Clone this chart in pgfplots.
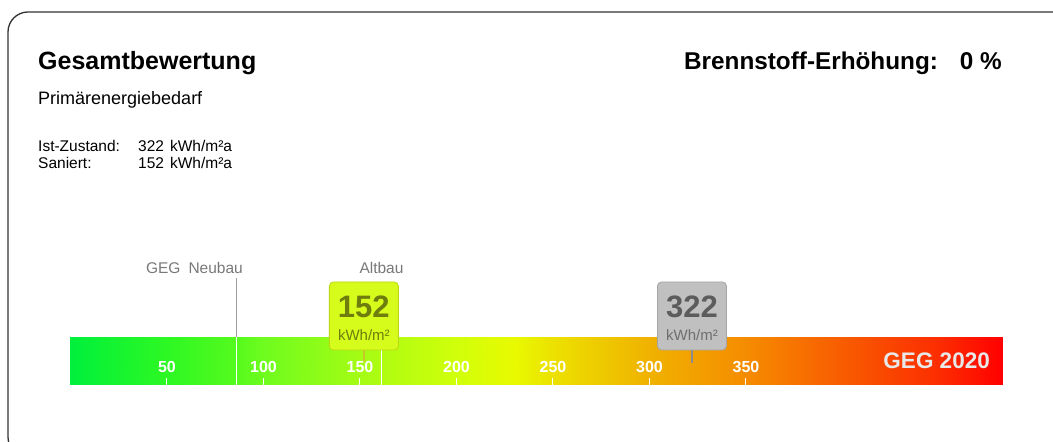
\documentclass[border=0pt]{standalone}
\usepackage{pgfplots}
\pgfplotsset{compat=1.18}
\usepackage{fontspec}
\setmainfont{Liberation Sans}
\newcommand{\fs}[1]{\fontsize{#1}{#1}\selectfont}
\definecolor{boxA}{RGB}{214,252,28}
\definecolor{boxAb}{RGB}{190,215,20}
\definecolor{numA}{RGB}{110,125,12}
\definecolor{stemA}{RGB}{200,200,40}
\definecolor{boxB}{RGB}{192,192,192}
\definecolor{boxBb}{RGB}{165,165,165}
\definecolor{numB}{RGB}{92,92,92}
\definecolor{unitB}{RGB}{110,110,110}
\definecolor{stemB}{RGB}{140,140,140}
\definecolor{lbl}{RGB}{120,120,120}
\definecolor{frame}{RGB}{50,50,50}
\begin{document}
\begin{tikzpicture}[x=1pt,y=1pt]
\begin{axis}[at={(0,0)}, anchor=south west, scale only axis,
  width=1053pt, height=442pt,
  xmin=-36.53, xmax=509.07, ymin=0, ymax=442,
  hide axis, clip=false,
  colormap={geg}{rgb255(0pt)=(0,240,60) rgb255(50pt)=(45,248,35) rgb255(86pt)=(85,250,30) rgb255(100pt)=(110,252,30) rgb255(150pt)=(165,252,20) rgb255(200pt)=(208,255,10) rgb255(230pt)=(232,250,0) rgb255(250pt)=(236,225,0) rgb255(300pt)=(240,178,0) rgb255(350pt)=(245,140,0) rgb255(400pt)=(248,92,0) rgb255(450pt)=(252,45,0) rgb255(483pt)=(255,0,0)},
  point meta min=0, point meta max=483]
% gradient scale bar
\addplot[surf, shader=interp, mesh/rows=2, point meta=x] coordinates {
(0,57)(50,57)(86,57)(100,57)(150,57)(200,57)(230,57)(250,57)(300,57)(350,57)(400,57)(450,57)(483,57)
(0,105)(50,105)(86,105)(100,105)(150,105)(200,105)(230,105)(250,105)(300,105)(350,105)(400,105)(450,105)(483,105)};
% tick marks
\pgfplotsinvokeforeach{50,100,...,350}{\addplot[white, line width=1pt] coordinates {(#1,57)(#1,64)};}
% tick labels
\addplot[draw=none, point meta=explicit symbolic, nodes near coords,
  every node near coord/.style={anchor=center, text=white, font=\fs{16}\bfseries, inner sep=0pt}]
  coordinates {(50,75)[50] (100,75)[100] (150,75)[150] (200,75)[200] (250,75)[250] (300,75)[300] (350,75)[350]};
% reference lines
\addplot[lbl!70, line width=1pt] coordinates {(86,105)(86,164)};
\addplot[white, line width=1pt] coordinates {(86,57)(86,105)};
\addplot[lbl!70, line width=1pt] coordinates {(161,105)(161,160)};
\addplot[white, line width=1pt] coordinates {(161,57)(161,105)};
% stems
\addplot[stemA, line width=2pt] coordinates {(152,80)(152,92)};
\addplot[stemB, line width=2pt] coordinates {(322,79)(322,92)};
% value boxes
\addplot[draw=none, nodes near coords={},
  every node near coord/.style={anchor=center, draw=boxAb, fill=boxA, rounded corners=4pt, minimum width=69pt, minimum height=68pt, line width=0.8pt}]
  coordinates {(152,126)};
\addplot[draw=none, nodes near coords={152},
  every node near coord/.style={anchor=center, text=numA, font=\fs{31}\bfseries, inner sep=0pt}]
  coordinates {(152,135)};
\addplot[draw=none, nodes near coords={kWh/m²},
  every node near coord/.style={anchor=center, text=numA, font=\fs{15}, inner sep=0pt}]
  coordinates {(152,107)};
\addplot[draw=none, nodes near coords={},
  every node near coord/.style={anchor=center, draw=boxBb, fill=boxB, rounded corners=4pt, minimum width=69pt, minimum height=68pt, line width=0.8pt}]
  coordinates {(322,126)};
\addplot[draw=none, nodes near coords={322},
  every node near coord/.style={anchor=center, text=numB, font=\fs{31}\bfseries, inner sep=0pt}]
  coordinates {(322,135)};
\addplot[draw=none, nodes near coords={kWh/m²},
  every node near coord/.style={anchor=center, text=unitB, font=\fs{15}, inner sep=0pt}]
  coordinates {(322,107)};
\end{axis}
% frame
\draw[frame, line width=1.3pt, rounded corners=20pt] (8,430) rectangle (1085,-15);
% texts
\node[anchor=base west, inner sep=0pt, font=\fs{25}\bfseries] at (38,372) {Gesamtbewertung};
\node[anchor=base east, inner sep=0pt, font=\fs{24.3}\bfseries] at (1002,372) {Brennstoff-Erhöhung:\hspace{22pt}0 \%};
\node[anchor=base west, inner sep=0pt, font=\fs{18}] at (38,337) {Primärenergiebedarf};
\node[anchor=base west, inner sep=0pt, font=\fs{15.5}] at (38,290) {Ist-Zustand:};
\node[anchor=base west, inner sep=0pt, font=\fs{15.5}] at (138,290) {322\hspace{6pt}kWh/m²a};
\node[anchor=base west, inner sep=0pt, font=\fs{15.5}] at (38,273) {Saniert:};
\node[anchor=base west, inner sep=0pt, font=\fs{15.5}] at (138,273) {152\hspace{6pt}kWh/m²a};
\node[anchor=base east, inner sep=0pt, font=\fs{15.5}, text=lbl] at (243,168) {GEG\hspace{8pt}Neubau};
\node[anchor=base, inner sep=0pt, font=\fs{15.5}, text=lbl] at (381.5,168) {Altbau};
\node[anchor=east, inner sep=0pt, font=\fs{22.5}\bfseries, text=black!9] at (990,81) {GEG 2020};
\pgfresetboundingbox
\path[use as bounding box] (0,0) rectangle (1053,442);
\end{tikzpicture}
\end{document}
